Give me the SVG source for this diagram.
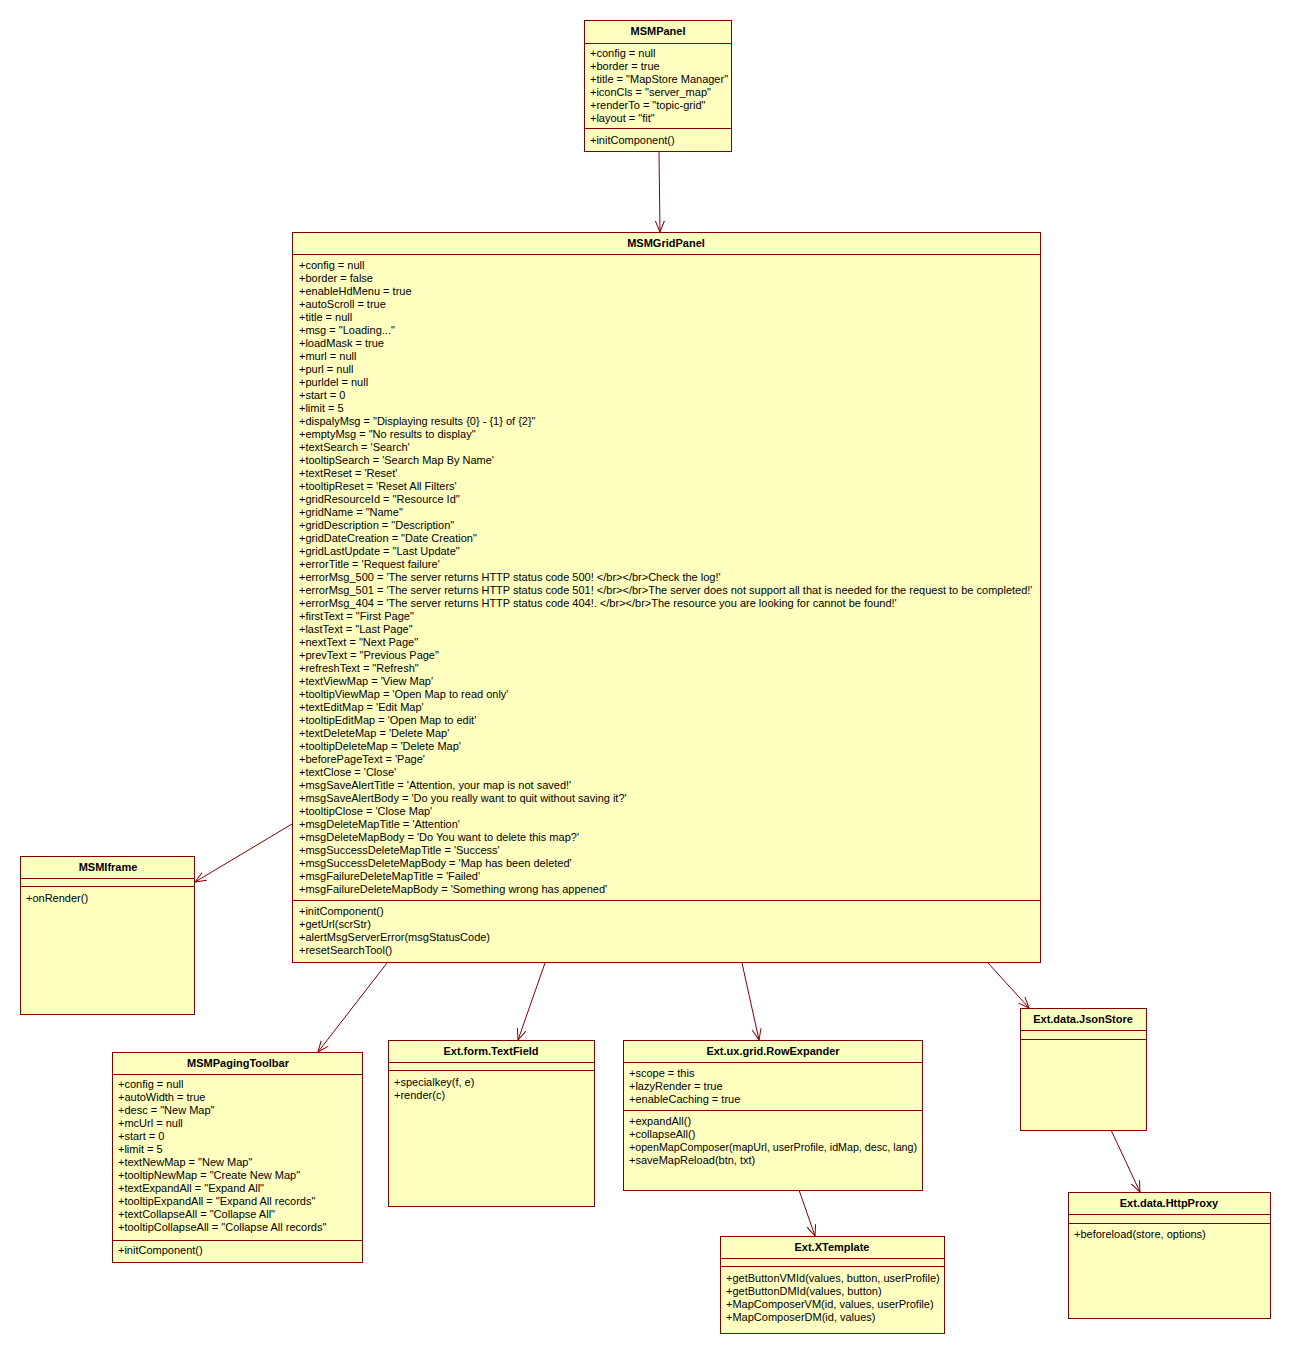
<svg xmlns="http://www.w3.org/2000/svg" width="1291" height="1355" viewBox="0 0 1291 1355">
<style>
.box{fill:#FFFFC0;stroke:#800000;stroke-width:1}
.ln{stroke:#800000;stroke-width:1}
.t{font-family:"Liberation Sans",Arial,sans-serif;font-size:11px;fill:#000}
.h{font-weight:bold;text-anchor:middle}
.c{stroke:#800000;stroke-width:1;fill:none;marker-end:url(#arr)}
</style>
<defs>
<marker id="arr" markerUnits="userSpaceOnUse" markerWidth="14" markerHeight="12" refX="11" refY="5" orient="auto">
<path d="M0,0.5 L11,5 L0,9.5" fill="none" stroke="#800000" stroke-width="1"/>
</marker>
</defs>
<rect width="1291" height="1355" fill="#fff"/>
<g id="connectors">
<line class="c" x1="659" y1="152" x2="660" y2="232"/>
<line class="c" x1="292" y1="824" x2="195" y2="882"/>
<line class="c" x1="387" y1="963" x2="318" y2="1052"/>
<line class="c" x1="545" y1="963" x2="518" y2="1040"/>
<line class="c" x1="742" y1="963" x2="759" y2="1040"/>
<line class="c" x1="988" y1="963" x2="1029" y2="1008"/>
<line class="c" x1="799" y1="1190" x2="815" y2="1236"/>
<line class="c" x1="1111" y1="1130" x2="1140" y2="1192"/>
</g>
<g id="MSMPanel">
<rect class="box" x="584.5" y="20.5" width="147" height="131"/>
<line class="ln" x1="584.5" y1="43.5" x2="731.5" y2="43.5"/>
<line class="ln" x1="584.5" y1="128.5" x2="731.5" y2="128.5"/>
<text class="t h" x="658" y="35">MSMPanel</text>
<text class="t" x="590" y="57"><tspan x="590">+config = null</tspan><tspan x="590" dy="13">+border = true</tspan><tspan x="590" dy="13">+title = "MapStore Manager"</tspan><tspan x="590" dy="13">+iconCls = "server_map"</tspan><tspan x="590" dy="13">+renderTo = "topic-grid"</tspan><tspan x="590" dy="13">+layout = "fit"</tspan></text>
<text class="t" x="590" y="144">+initComponent()</text>
</g>
<g id="MSMGridPanel">
<rect class="box" x="292.5" y="232.5" width="748" height="730"/>
<line class="ln" x1="292.5" y1="254.5" x2="1040.5" y2="254.5"/>
<line class="ln" x1="292.5" y1="900.5" x2="1040.5" y2="900.5"/>
<text class="t h" x="666" y="247">MSMGridPanel</text>
<text class="t" x="299" y="269"><tspan x="299">+config = null</tspan><tspan x="299" dy="13">+border = false</tspan><tspan x="299" dy="13">+enableHdMenu = true</tspan><tspan x="299" dy="13">+autoScroll = true</tspan><tspan x="299" dy="13">+title = null</tspan><tspan x="299" dy="13">+msg = "Loading..."</tspan><tspan x="299" dy="13">+loadMask = true</tspan><tspan x="299" dy="13">+murl = null</tspan><tspan x="299" dy="13">+purl = null</tspan><tspan x="299" dy="13">+purldel = null</tspan><tspan x="299" dy="13">+start = 0</tspan><tspan x="299" dy="13">+limit = 5</tspan><tspan x="299" dy="13">+dispalyMsg = "Displaying results {0} - {1} of {2}"</tspan><tspan x="299" dy="13">+emptyMsg = "No results to display"</tspan><tspan x="299" dy="13">+textSearch = 'Search'</tspan><tspan x="299" dy="13">+tooltipSearch = 'Search Map By Name'</tspan><tspan x="299" dy="13">+textReset = 'Reset'</tspan><tspan x="299" dy="13">+tooltipReset = 'Reset All Filters'</tspan><tspan x="299" dy="13">+gridResourceId = "Resource Id"</tspan><tspan x="299" dy="13">+gridName = "Name"</tspan><tspan x="299" dy="13">+gridDescription = "Description"</tspan><tspan x="299" dy="13">+gridDateCreation = "Date Creation"</tspan><tspan x="299" dy="13">+gridLastUpdate = "Last Update"</tspan><tspan x="299" dy="13">+errorTitle = 'Request failure'</tspan><tspan x="299" dy="13">+errorMsg_500 = 'The server returns HTTP status code 500! &lt;/br&gt;&lt;/br&gt;Check the log!'</tspan><tspan x="299" dy="13">+errorMsg_501 = 'The server returns HTTP status code 501! &lt;/br&gt;&lt;/br&gt;The server does not support all that is needed for the request to be completed!'</tspan><tspan x="299" dy="13">+errorMsg_404 = 'The server returns HTTP status code 404!. &lt;/br&gt;&lt;/br&gt;The resource you are looking for cannot be found!'</tspan><tspan x="299" dy="13">+firstText = "First Page"</tspan><tspan x="299" dy="13">+lastText = "Last Page"</tspan><tspan x="299" dy="13">+nextText = "Next Page"</tspan><tspan x="299" dy="13">+prevText = "Previous Page"</tspan><tspan x="299" dy="13">+refreshText = "Refresh"</tspan><tspan x="299" dy="13">+textViewMap = 'View Map'</tspan><tspan x="299" dy="13">+tooltipViewMap = 'Open Map to read only'</tspan><tspan x="299" dy="13">+textEditMap = 'Edit Map'</tspan><tspan x="299" dy="13">+tooltipEditMap = 'Open Map to edit'</tspan><tspan x="299" dy="13">+textDeleteMap = 'Delete Map'</tspan><tspan x="299" dy="13">+tooltipDeleteMap = 'Delete Map'</tspan><tspan x="299" dy="13">+beforePageText = 'Page'</tspan><tspan x="299" dy="13">+textClose = 'Close'</tspan><tspan x="299" dy="13">+msgSaveAlertTitle = 'Attention, your map is not saved!'</tspan><tspan x="299" dy="13">+msgSaveAlertBody = 'Do you really want to quit without saving it?'</tspan><tspan x="299" dy="13">+tooltipClose = 'Close Map'</tspan><tspan x="299" dy="13">+msgDeleteMapTitle = 'Attention'</tspan><tspan x="299" dy="13">+msgDeleteMapBody = 'Do You want to delete this map?'</tspan><tspan x="299" dy="13">+msgSuccessDeleteMapTitle = 'Success'</tspan><tspan x="299" dy="13">+msgSuccessDeleteMapBody = 'Map has been deleted'</tspan><tspan x="299" dy="13">+msgFailureDeleteMapTitle = 'Failed'</tspan><tspan x="299" dy="13">+msgFailureDeleteMapBody = 'Something wrong has appened'</tspan></text>
<text class="t" x="299" y="915"><tspan x="299">+initComponent()</tspan><tspan x="299" dy="13">+getUrl(scrStr)</tspan><tspan x="299" dy="13">+alertMsgServerError(msgStatusCode)</tspan><tspan x="299" dy="13">+resetSearchTool()</tspan></text>
</g>
<g id="MSMIframe">
<rect class="box" x="20.5" y="856.5" width="174" height="158"/>
<line class="ln" x1="20.5" y1="878.5" x2="194.5" y2="878.5"/>
<line class="ln" x1="20.5" y1="886.5" x2="194.5" y2="886.5"/>
<text class="t h" x="108" y="871">MSMIframe</text>
<text class="t" x="26" y="902">+onRender()</text>
</g>
<g id="MSMPagingToolbar">
<rect class="box" x="112.5" y="1052.5" width="250" height="210"/>
<line class="ln" x1="112.5" y1="1074.5" x2="362.5" y2="1074.5"/>
<line class="ln" x1="112.5" y1="1240.5" x2="362.5" y2="1240.5"/>
<text class="t h" x="238" y="1067">MSMPagingToolbar</text>
<text class="t" x="118" y="1088"><tspan x="118">+config = null</tspan><tspan x="118" dy="13">+autoWidth = true</tspan><tspan x="118" dy="13">+desc = "New Map"</tspan><tspan x="118" dy="13">+mcUrl = null</tspan><tspan x="118" dy="13">+start = 0</tspan><tspan x="118" dy="13">+limit = 5</tspan><tspan x="118" dy="13">+textNewMap = "New Map"</tspan><tspan x="118" dy="13">+tooltipNewMap = "Create New Map"</tspan><tspan x="118" dy="13">+textExpandAll = "Expand All"</tspan><tspan x="118" dy="13">+tooltipExpandAll = "Expand All records"</tspan><tspan x="118" dy="13">+textCollapseAll = "Collapse All"</tspan><tspan x="118" dy="13">+tooltipCollapseAll = "Collapse All records"</tspan></text>
<text class="t" x="118" y="1254">+initComponent()</text>
</g>
<g id="ExtFormTextField">
<rect class="box" x="388.5" y="1040.5" width="206" height="166"/>
<line class="ln" x1="388.5" y1="1062.5" x2="594.5" y2="1062.5"/>
<line class="ln" x1="388.5" y1="1070.5" x2="594.5" y2="1070.5"/>
<text class="t h" x="491" y="1055">Ext.form.TextField</text>
<text class="t" x="394" y="1086"><tspan x="394">+specialkey(f, e)</tspan><tspan x="394" dy="13">+render(c)</tspan></text>
</g>
<g id="ExtUxGridRowExpander">
<rect class="box" x="623.5" y="1040.5" width="299" height="150"/>
<line class="ln" x1="623.5" y1="1062.5" x2="922.5" y2="1062.5"/>
<line class="ln" x1="623.5" y1="1110.5" x2="922.5" y2="1110.5"/>
<text class="t h" x="773" y="1055">Ext.ux.grid.RowExpander</text>
<text class="t" x="629" y="1077"><tspan x="629">+scope = this</tspan><tspan x="629" dy="13">+lazyRender = true</tspan><tspan x="629" dy="13">+enableCaching = true</tspan></text>
<text class="t" x="629" y="1125"><tspan x="629">+expandAll()</tspan><tspan x="629" dy="13">+collapseAll()</tspan></text>
<text class="t" x="629" y="1151" textLength="288" lengthAdjust="spacingAndGlyphs">+openMapComposer(mapUrl, userProfile, idMap, desc, lang)</text>
<text class="t" x="629" y="1164">+saveMapReload(btn, txt)</text>
</g>
<g id="ExtDataJsonStore">
<rect class="box" x="1020.5" y="1008.5" width="126" height="122"/>
<line class="ln" x1="1020.5" y1="1030.5" x2="1146.5" y2="1030.5"/>
<line class="ln" x1="1020.5" y1="1039.5" x2="1146.5" y2="1039.5"/>
<text class="t h" x="1083" y="1023">Ext.data.JsonStore</text>
</g>
<g id="ExtDataHttpProxy">
<rect class="box" x="1068.5" y="1192.5" width="202" height="126"/>
<line class="ln" x1="1068.5" y1="1214.5" x2="1270.5" y2="1214.5"/>
<line class="ln" x1="1068.5" y1="1223.5" x2="1270.5" y2="1223.5"/>
<text class="t h" x="1169" y="1207">Ext.data.HttpProxy</text>
<text class="t" x="1074" y="1238">+beforeload(store, options)</text>
</g>
<g id="ExtXTemplate">
<rect class="box" x="720.5" y="1236.5" width="224" height="97"/>
<line class="ln" x1="720.5" y1="1258.5" x2="944.5" y2="1258.5"/>
<line class="ln" x1="720.5" y1="1266.5" x2="944.5" y2="1266.5"/>
<text class="t h" x="832" y="1251">Ext.XTemplate</text>
<text class="t" x="726" y="1282"><tspan x="726">+getButtonVMId(values, button, userProfile)</tspan><tspan x="726" dy="13">+getButtonDMId(values, button)</tspan><tspan x="726" dy="13">+MapComposerVM(id, values, userProfile)</tspan><tspan x="726" dy="13">+MapComposerDM(id, values)</tspan></text>
</g>
</svg>
